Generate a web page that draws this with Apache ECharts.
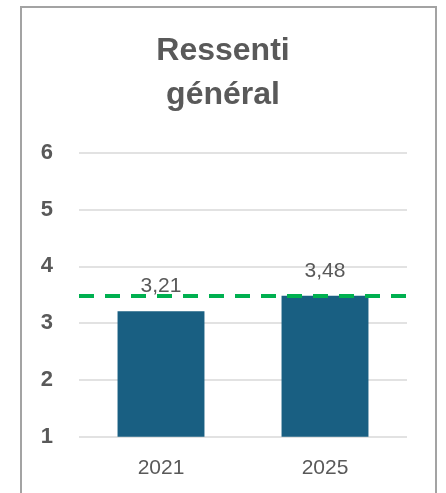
<!DOCTYPE html>
<html>
<head>
<meta charset="utf-8">
<script src="https://cdn.jsdelivr.net/npm/echarts@6/dist/echarts.min.js"></script>
<style>
  html, body { margin: 0; padding: 0; background: #fff; }
  #chart { width: 446px; height: 493px; }
</style>
</head>
<body>
<div id="chart"></div>
<script>
// données
var years = ['2021', '2025'];
var scores = [3.21, 3.48];
var refValue = 3.48;
var yTicks = [1, 2, 3, 4, 5, 6];

var textColor = '#595959';
var fontFam = '"Liberation Sans", Arial, sans-serif';

var myChart = echarts.init(document.getElementById('chart'));
var option = {
    backgroundColor: '#fff',
    animation: false,
    title: {
        text: 'Ressenti\ngénéral',
        left: 'center',
        top: 29,
        padding: 0,
        textStyle: {
            color: textColor,
            fontFamily: fontFam,
            fontWeight: 'bold',
            fontSize: 32,
            lineHeight: 44
        }
    },
    graphic: [
        {
            type: 'rect',
            shape: { x: 21, y: 7, width: 415, height: 520 },
            style: { fill: 'none', stroke: '#a3a3a3', lineWidth: 2 },
            silent: true
        }
    ],
    grid: {
        left: 79,
        right: 39,
        top: 152.7,
        bottom: 56.3
    },
    xAxis: {
        type: 'category',
        data: years,
        axisLine: { show: false },
        axisTick: { show: false },
        axisLabel: {
            margin: 21,
            color: textColor,
            fontFamily: fontFam,
            fontSize: 21
        }
    },
    yAxis: {
        type: 'value',
        min: yTicks[0],
        max: yTicks[yTicks.length - 1],
        interval: 1,
        axisLine: { show: false },
        axisTick: { show: false },
        splitLine: { lineStyle: { color: '#d9d9d9', width: 1.5 } },
        axisLabel: {
            margin: 26,
            color: textColor,
            fontFamily: fontFam,
            fontWeight: 'bold',
            fontSize: 22
        }
    },
    series: [
        {
            name: 'Ressenti général',
            type: 'bar',
            data: scores,
            barWidth: '53%',
            itemStyle: { color: '#195f82' },
            label: {
                show: true,
                position: 'top',
                distance: 14,
                color: textColor,
                fontFamily: fontFam,
                fontSize: 21,
                formatter: function (p) {
                    return p.value.toFixed(2).replace('.', ',');
                }
            },
            markLine: {
                silent: true,
                symbol: 'none',
                label: { show: false },
                lineStyle: {
                    color: '#00b050',
                    width: 4,
                    type: [15, 11]
                },
                data: [{ yAxis: refValue }]
            }
        }
    ]
};
myChart.setOption(option);
</script>
</body>
</html>
